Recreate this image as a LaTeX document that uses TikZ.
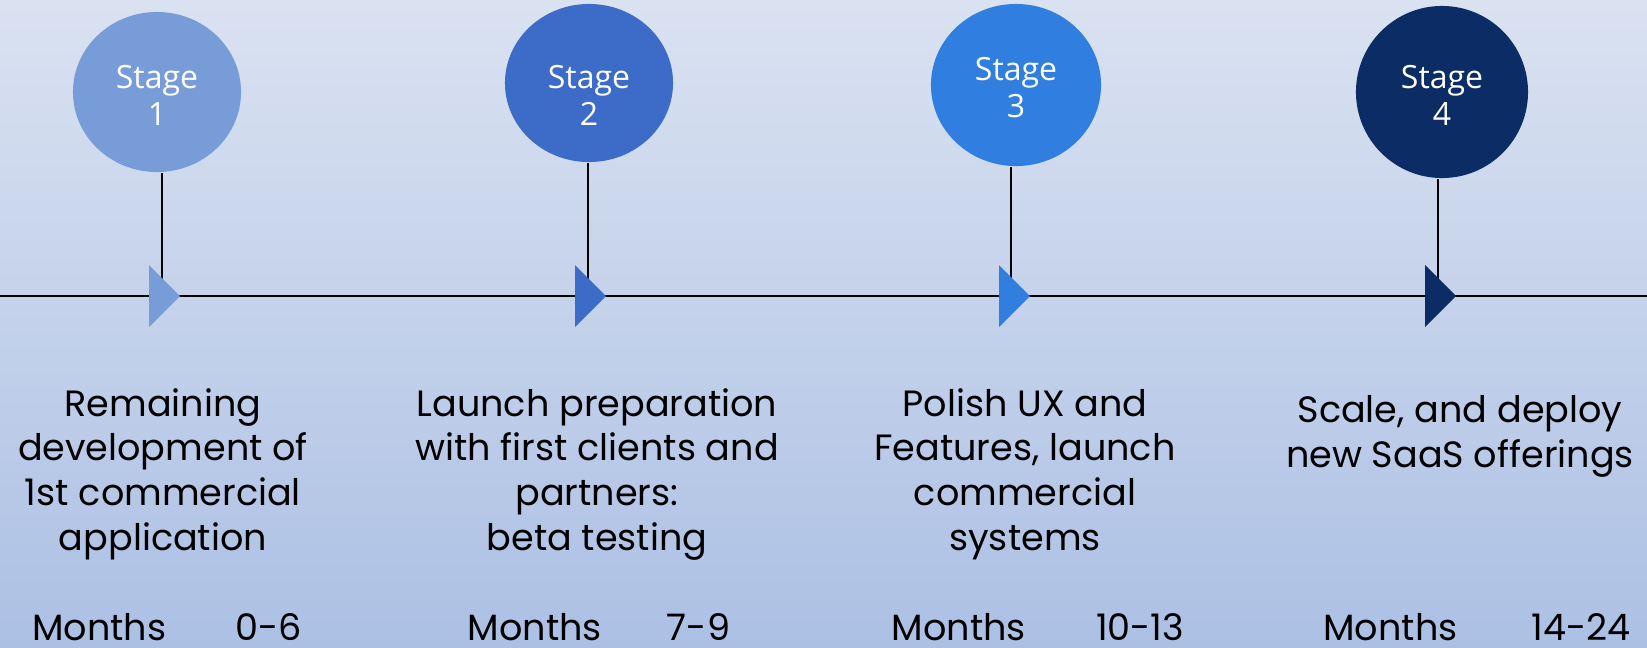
\documentclass[tikz,border=0pt]{standalone}
\usepackage{fontspec}
\setmainfont{Poppins}
\newfontfamily\stagefont{Open Sans}
\usetikzlibrary{shapes.geometric}

\definecolor{bgtop}{HTML}{DAE2F1}
\definecolor{bgbottom}{HTML}{ACC0E4}
\definecolor{stageA}{HTML}{779CD8}
\definecolor{stageB}{HTML}{3C6CC8}
\definecolor{stageC}{HTML}{2F7EE0}
\definecolor{stageD}{HTML}{0C2C66}

\tikzset{
    stage/.style={ellipse, inner sep=0pt},
    stagelabel/.style={inner sep=0pt, text=white, align=center,
        font=\stagefont\fontsize{9.1pt}{10.5pt}\selectfont},
    desc/.style={anchor=base, inner sep=0pt, align=center,
        font=\fontsize{10.4pt}{12.7pt}\selectfont},
    months/.style={anchor=base, inner sep=0pt,
        font=\fontsize{10.4pt}{12.7pt}\selectfont},
    stem/.style={line width=0.75pt}
}

\begin{document}
\begin{tikzpicture}[x=0.01cm, y=-0.01cm]
            \shade [top color=bgtop, bottom color=bgbottom] (0,0) rectangle (1647,648);
            \useasboundingbox (0,0) rectangle (1647,648);
            % time axis
            \draw [line width=0.85pt] (0,296) -- (1647,296);
            \coordinate (p1) at (162,296);
            \coordinate (p2) at (588,296);
            \coordinate (p3) at (1011,296);
            \coordinate (p4) at (1438,296);
            % stages
            \node [stage, fill=stageA, minimum width=1.68cm, minimum height=1.60cm] (s1) at (157,92) {};
            \node [stage, fill=stageB, minimum width=1.68cm, minimum height=1.58cm] (s2) at (589,83) {};
            \node [stage, fill=stageC, minimum width=1.70cm, minimum height=1.62cm] (s3) at (1016,85) {};
            \node [stage, fill=stageD, minimum width=1.72cm, minimum height=1.72cm] (s4) at (1442,92) {};
            \node [stagelabel] (l1) at (157,95) {Stage\\1};
            \node [stagelabel] (l2) at (589,95) {Stage\\2};
            \node [stagelabel] (l3) at (1016,88) {Stage\\3};
            \node [stagelabel] (l4) at (1442,95) {Stage\\4};
            \draw [stem] (p1) -- (p1 |- s1.south);
            \draw [stem] (p2) -- (p2 |- s2.south);
            \draw [stem] (p3) -- (p3 |- s3.south);
            \draw [stem] (p4) -- (p4 |- s4.south);
            \fill [stageA] (p1) ++(-13,-31) -- ++(31,31) -- ++(-31,31) -- cycle;
            \fill [stageB] (p2) ++(-13,-31) -- ++(31,31) -- ++(-31,31) -- cycle;
            \fill [stageC] (p3) ++(-12,-31) -- ++(31,31) -- ++(-31,31) -- cycle;
            \fill [stageD] (p4) ++(-13,-31) -- ++(31,31) -- ++(-31,31) -- cycle;
            % descriptions (base = last line)
            \node [desc] (d1) at (163,550) {Remaining\\development of\\1st commercial\\application};
            \node [desc] (d2) at (597,550) {Launch preparation\\with first clients and\\partners:\\beta testing};
            \node [desc] (d3) at (1025,550) {Polish UX and\\Features, launch\\commercial\\systems};
            \node [desc] (d4) at (1460,467) {Scale, and deploy\\new SaaS offerings};
            \node [months] (m1) at (167,640) {Months\hspace{0.69cm}0-6};
            \node [months] (m2) at (599,640) {Months\hspace{0.65cm}7-9};
            \node [months] (m3) at (1038,640) {Months\hspace{0.70cm}10-13};
            \node [months] (m4) at (1477,640) {Months\hspace{0.74cm}14-24};
\end{tikzpicture}
\end{document}
